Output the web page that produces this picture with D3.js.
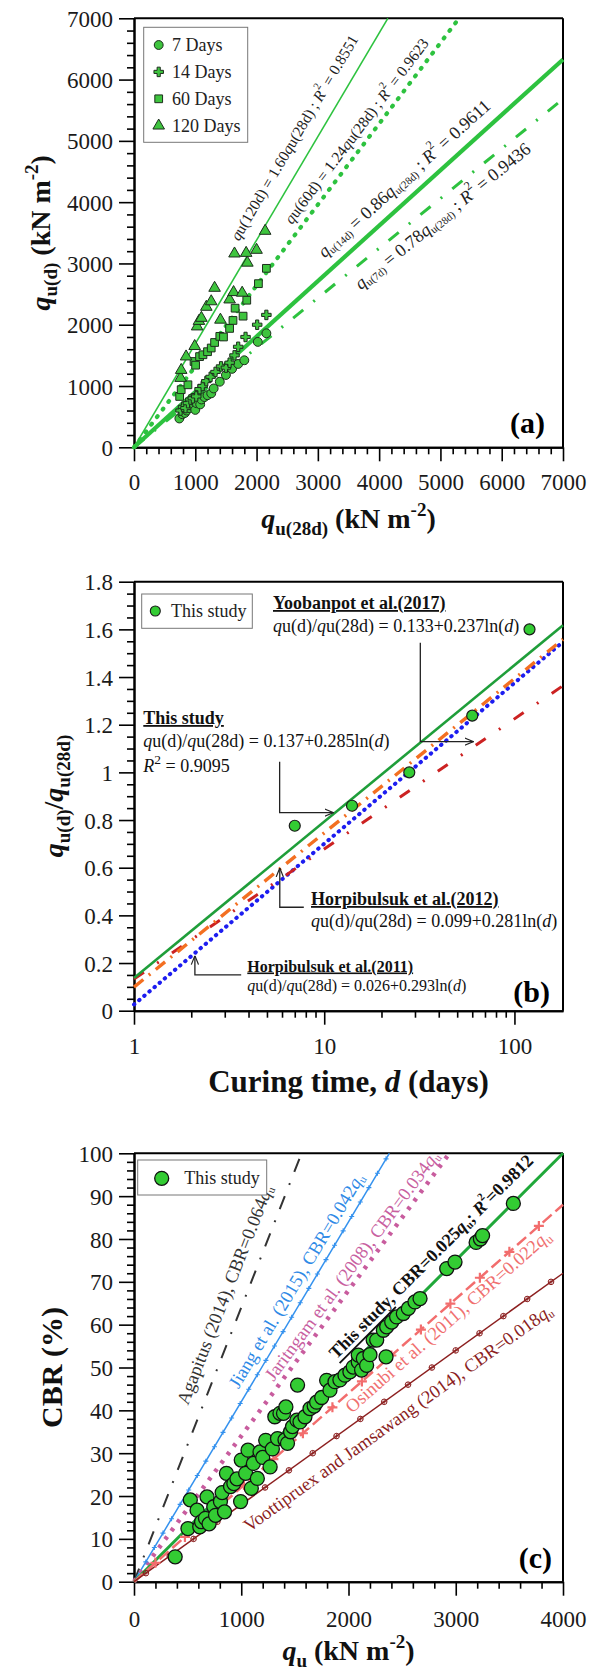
<!DOCTYPE html>
<html><head><meta charset="utf-8">
<script src="https://cdn.jsdelivr.net/npm/d3@7"></script>
<style>
body{margin:0;background:#fff}
svg text{font-family:"Liberation Serif","Times New Roman",serif}
</style>
</head><body>
<svg id="c" width="595" height="1673"></svg>
<script>
// ================= DATA =================
// Panel (a)
const aTicks=[0,1000,2000,3000,4000,5000,6000,7000];
const aLegend=["7 Days","14 Days","60 Days","120 Days"];
const day7=[[740,470],[790,540],[830,560],[860,600],[900,640],[950,680],[1000,610],[1020,720],[1080,700],[1100,780],[1150,820],[1200,850],[1260,880],[1300,960],[1400,1070],[1500,1180],[1600,1280],[1700,1360],[1800,1420],[2020,1720],[2160,1860]];
const day14=[[760,600],[800,660],[840,640],[880,720],[920,780],[960,800],[1016,830],[1070,950],[1120,1000],[1180,1080],[1250,1150],[1330,1230],[1420,1320],[1500,1300],[1560,1380],[1640,1500],[1700,1640],[1820,1800],[2010,2000],[2160,2160]];
const day60=[[745,830],[770,940],[880,1020],[980,1400],[1005,1340],[1070,1480],[1125,1510],[1200,1560],[1260,1620],[1315,1710],[1400,1810],[1460,1800],[1560,1940],[1615,2070],[1650,2270],[1780,2140],[1840,2400],[2030,2670],[2160,2920]];
const day120=[[760,1130],[770,1260],[850,1480],[990,1650],[1030,1970],[1060,2060],[1100,2110],[1180,2290],[1260,2380],[1315,2600],[1410,2080],[1560,2410],[1625,2530],[1765,2520],[1640,3160],[1830,3170],[1850,3010],[2000,3220],[2140,3530]];
const aFitSlopes=[1.69,1.32,0.904,0.812]; // as drawn: 120d, 60d, 14d, 7d
const aFitLabelPos=[[2606,5056],[3622,5169],[4406,4386],[5035,3774]];

// Panel (b)
const bXTicks=[1,10,100];
const bXMinor=[2,3,4,5,6,7,8,9,20,30,40,50,60,70,80,90];
const bYTicks=[0,0.2,0.4,0.6,0.8,1,1.2,1.4,1.6,1.8];
const bDays=[7,14,28,60,120];
const bRatio=[0.776,0.86,1.0,1.238,1.60];
const bModelA=[0.137,0.133,0.099,0.026]; // This study, Yoobanpot 2017, Horpibulsuk 2012, Horpibulsuk 2011
const bModelB=[0.285,0.237,0.281,0.293];

// Panel (c)
const cXTicks=[0,1000,2000,3000,4000];
const cYTicks=[0,10,20,30,40,50,60,70,80,90,100];
const cQu=[384,503,525,588,613,630,666,681,700,744,760,806,822,844,862,900,931,960,994,1000,1041,1063,1094,1113,1150,1175,1200,1228,1269,1290,1313,1338,1361,1394,1408,1416,1431,1460,1478,1519,1525,1548,1594,1641,1680,1703,1750,1796,1827,1874,1920,1967,2013,2044,2091,2091,2122,2138,2169,2200,2230,2263,2325,2350,2356,2403,2449,2511,2558,2620,2667,2916,2993,3190,3230,3250,3537];
const cCBR=[5.8,12.4,19.1,16.7,12.8,14,14.8,19.8,13.5,17.5,15.5,18.7,20.8,16.3,25.3,22.2,22.9,24,18.7,28.4,25.3,30.7,21.8,27.6,24.1,30.3,29,33.0,26.8,31,38.5,33.4,39.3,39.3,33.1,40.8,32.3,35,36.2,37.7,45.9,37.3,38.5,40.4,41,41.9,43,47.0,44.7,46.7,47.1,48.2,49.0,50.1,51.3,52.9,49.4,52.1,50.5,53,56.4,56.4,58.7,52.5,59.5,60.6,61.8,62.6,63.8,65.3,66.1,73.1,74.6,79.2,80,80.8,88.3];
const cSlopes=[0.064,0.042,0.034,0.025,0.022,0.018];
const cLabelPos=[[848,67.0],[1515,70.3],[2033,73.8],[2769,75.9],[2928,60.8],[2462,38.2]];

// ================= HELPERS =================
const svg=d3.select("#c");
const L=134,R=563;
function rich(parent,segs,o){
  const fs=o.fs||18;
  const t=parent.append("text").attr("font-size",fs).attr("fill",o.fill||"#111").style("white-space","pre");
  if(o.x!=null) t.attr("x",o.x); if(o.y!=null) t.attr("y",o.y);
  if(o.anchor) t.attr("text-anchor",o.anchor);
  if(o.bold) t.attr("font-weight","bold");
  if(o.transform) t.attr("transform",o.transform);
  if(o.baseline) t.attr("dominant-baseline",o.baseline);
  let cur=0;
  segs.forEach(s=>{
    const off=s.sub?0.25*fs:(s.sup?-0.42*fs:0);
    const ts=t.append("tspan").text(s.t);
    if(off!==cur){ts.attr("dy",off-cur);cur=off;}
    if(s.sub||s.sup) ts.attr("font-size",(s.k||0.68)*fs);
    if(s.i) ts.attr("font-style","italic");
    if(s.b) ts.attr("font-weight","bold");
    if(s.u) ts.attr("text-decoration","underline");
  });
  return t;
}
function frame(x,y,top,bottom,xMaj,xMin,yMaj,yMin,xFmt,yFmt,labY){
  const g=svg.append("g");
  g.append("g").attr("transform",`translate(0,${bottom})`)
    .call(d3.axisBottom(x).tickValues(xMin).tickSize(7).tickSizeOuter(0).tickFormat(""));
  const gx=g.append("g").attr("transform",`translate(0,${bottom})`)
    .call(d3.axisBottom(x).tickValues(xMaj).tickSize(14).tickSizeOuter(0).tickFormat(xFmt));
  g.append("g").attr("transform",`translate(${L},0)`)
    .call(d3.axisLeft(y).tickValues(yMin).tickSize(7).tickSizeOuter(0).tickFormat(""));
  const gy=g.append("g").attr("transform",`translate(${L},0)`)
    .call(d3.axisLeft(y).tickValues(yMaj).tickSize(15).tickSizeOuter(0).tickFormat(yFmt));
  g.selectAll(".domain").attr("stroke","#000").attr("stroke-width",2);
  g.selectAll(".tick line").attr("stroke","#000").attr("stroke-width",1.6);
  g.selectAll("text").attr("font-family",'"Liberation Serif",serif').attr("font-size",23).attr("fill","#1a1a1a");
  gx.selectAll("text").attr("y",labY||44).attr("dy",0);
  gy.selectAll("text").attr("x",-21).attr("dy","0.35em");
  g.append("line").attr("x1",L).attr("x2",R).attr("y1",top).attr("y2",top).attr("stroke","#000").attr("stroke-width",2);
  g.append("line").attr("x1",R).attr("x2",R).attr("y1",top).attr("y2",bottom).attr("stroke","#000").attr("stroke-width",2);
  return g;
}
const defs=svg.append("defs");
defs.append("marker").attr("id","arr").attr("viewBox","0 0 10 10").attr("refX",10).attr("refY",5)
  .attr("markerWidth",9).attr("markerHeight",9).attr("markerUnits","userSpaceOnUse").attr("orient","auto")
  .append("path").attr("d","M0,1 L10,5 L0,9").attr("fill","none").attr("stroke","#222").attr("stroke-width",1.3);

// ================= PANEL (a) =================
const xA=d3.scaleLinear([0,7000],[L,R]);
const yA=d3.scaleLinear([0,7000],[447.3,18.3]);
const aMinor=d3.range(0,7001,200).filter(v=>v%1000);
frame(xA,yA,18.3,447.3,aTicks,aMinor,aTicks,aMinor,d3.format("d"),d3.format("d"),43);

const aLine="#2dc23f", aFill="#3ec43e", aStroke="#1d2e1d";
const aStyles=[
  {w:1.6,dash:null,cap:"butt"},
  {w:4.2,dash:"1 8.5",cap:"round"},
  {w:4.2,dash:null,cap:"butt"},
  {w:3,dash:"13 13 2 13",cap:"butt"}
];
aFitSlopes.forEach((s,i)=>{
  const xe=Math.min(7000,7000/s);
  const p=svg.append("path").datum([[0,0],[xe,s*xe]])
    .attr("d",d3.line().x(d=>xA(d[0])).y(d=>yA(d[1])))
    .attr("fill","none").attr("stroke",aLine).attr("stroke-width",aStyles[i].w).attr("stroke-linecap",aStyles[i].cap);
  if(aStyles[i].dash) p.attr("stroke-dasharray",aStyles[i].dash);
});
const aLabelSegs=[
  [{t:"q",i:1},{t:"u(120d) = 1.60"},{t:"q",i:1},{t:"u(28d) ; "},{t:"R",i:1},{t:"2",sup:1},{t:" = 0.8551"}],
  [{t:"q",i:1},{t:"u(60d) = 1.24"},{t:"q",i:1},{t:"u(28d) ; "},{t:"R",i:1},{t:"2",sup:1},{t:" = 0.9623"}],
  [{t:"q",i:1},{t:"u(14d)",sub:1,k:0.6},{t:" = 0.86"},{t:"q",i:1},{t:"u(28d)",sub:1,k:0.6},{t:" ; "},{t:"R",i:1},{t:"2",sup:1},{t:" = 0.9611"}],
  [{t:"q",i:1},{t:"u(7d)",sub:1,k:0.6},{t:" = 0.78"},{t:"q",i:1},{t:"u(28d)",sub:1,k:0.6},{t:" ; "},{t:"R",i:1},{t:"2",sup:1},{t:" = 0.9436"}]
];
const aLabelFs=[15.5,15.5,18,18];
aFitSlopes.forEach((s,i)=>{
  const ang=Math.atan2(yA(0)-yA(s*1000),xA(1000)-xA(0))*180/Math.PI;
  const [px,py]=aFitLabelPos[i];
  rich(svg,aLabelSegs[i],{fs:aLabelFs[i],anchor:"middle",baseline:"central",fill:"#222",
    transform:`translate(${xA(px)},${yA(py)}) rotate(${-ang})`});
});
const aSyms=[d3.symbolCircle,d3.symbolCross,d3.symbolSquare,d3.symbolTriangle];
const aSizes=[62,50,60,58];
[day7,day14,day60,day120].forEach((ser,i)=>{
  svg.append("g").selectAll("path").data(ser).join("path")
    .attr("d",d3.symbol(aSyms[i],aSizes[i])())
    .attr("transform",d=>`translate(${xA(d[0])},${yA(d[1])})`)
    .attr("fill",aFill).attr("stroke",aStroke).attr("stroke-width",1);
});
// legend (a)
svg.append("rect").attr("x",143.7).attr("y",27.3).attr("width",104).attr("height",115)
  .attr("fill","#fff").attr("stroke","#777").attr("stroke-width",1);
aLegend.forEach((t,i)=>{
  const yy=45+i*26.9;
  svg.append("path").attr("d",d3.symbol(aSyms[i],aSizes[i])()).attr("transform",`translate(158.7,${yy})`)
    .attr("fill",aFill).attr("stroke",aStroke).attr("stroke-width",1);
  svg.append("text").attr("x",172).attr("y",yy).attr("dominant-baseline","central").attr("font-size",18).attr("fill","#222").text(t);
});
svg.append("text").attr("x",545).attr("y",433).attr("text-anchor","end").attr("font-size",30).attr("font-weight","bold").text("(a)");
rich(svg,[{t:"q",i:1},{t:"u(28d)",sub:1},{t:" (kN m"},{t:"-2",sup:1},{t:")"}],{fs:28,bold:1,anchor:"middle",x:348.5,y:528,fill:"#111"});
rich(svg,[{t:"q",i:1},{t:"u(d)",sub:1},{t:" (kN m"},{t:"-2",sup:1},{t:")"}],{fs:28,bold:1,anchor:"middle",fill:"#111",transform:"translate(50,232.8) rotate(-90)"});

// ================= PANEL (b) =================
const xB=d3.scaleLog([1,180],[L,R]);
const yB=d3.scaleLinear([0,1.8],[1010.7,581.7]);
const bYMinor=d3.range(0,1.8001,0.05).map(v=>+v.toFixed(2)).filter(v=>Math.abs(v*5-Math.round(v*5))>1e-6);
frame(xB,yB,581.7,1010.7,bXTicks,bXMinor,bYTicks,bYMinor,d3.format("d"),d=>String(+d.toFixed(1)),43);
const bStyles=[
  {c:"#1f9e3a",w:2.6,dash:null,cap:"butt"},
  {c:"#cc2222",w:3,dash:"12 16 2 16",cap:"butt"},
  {c:"#f36f21",w:3.4,dash:"12 7 2 7",cap:"butt"},
  {c:"#1d1df0",w:4,dash:"0.5 6.2",cap:"round"}
];
const bDrawOrder=[3,1,2,0];
bDrawOrder.forEach(i=>{
  const f=d=>bModelA[i]+bModelB[i]*Math.log(d);
  const p=svg.append("path").datum([1,180])
    .attr("d",d3.line().x(d=>xB(d)).y(d=>yB(f(d))))
    .attr("fill","none").attr("stroke",bStyles[i].c).attr("stroke-width",bStyles[i].w).attr("stroke-linecap",bStyles[i].cap);
  if(bStyles[i].dash) p.attr("stroke-dasharray",bStyles[i].dash);
});
svg.append("g").selectAll("circle").data(bDays).join("circle")
  .attr("cx",d=>xB(d)).attr("cy",(d,i)=>yB(bRatio[i])).attr("r",5.5)
  .attr("fill","#33cc33").attr("stroke","#1a1a1a").attr("stroke-width",1.2);
// arrows
const bArrows=[
  [[32,1.544],[32,1.129],[61,1.129]],
  [[5.83,1.045],[5.83,0.831],[11.2,0.831]],
  [[7.81,0.434],[5.84,0.434],[5.84,0.599]],
  [[3.66,0.150],[2.09,0.150],[2.09,0.231]]
];
bArrows.forEach(a=>{
  svg.append("path").datum(a).attr("d",d3.line().x(d=>xB(d[0])).y(d=>yB(d[1])))
    .attr("fill","none").attr("stroke","#222").attr("stroke-width",1.3).attr("marker-end","url(#arr)");
});
function eq(a,b){return [{t:"q",i:1},{t:"u(d)/"},{t:"q",i:1},{t:"u(28d) = "+a+"+"+b+"ln("},{t:"d",i:1},{t:")"}];}
rich(svg,[{t:"Yoobanpot et al.(2017)",b:1,u:1}],{fs:18,x:273,y:609});
rich(svg,eq("0.133","0.237"),{fs:18,x:273,y:631.5});
rich(svg,[{t:"This study",b:1,u:1}],{fs:18,x:143.3,y:724});
rich(svg,eq("0.137","0.285"),{fs:18,x:143.3,y:747});
rich(svg,[{t:"R",i:1},{t:"2",sup:1,k:0.75},{t:" = 0.9095"}],{fs:18,x:143.3,y:772});
rich(svg,[{t:"Horpibulsuk et al.(2012)",b:1,u:1}],{fs:18,x:311,y:905});
rich(svg,eq("0.099","0.281"),{fs:18,x:311,y:926.5});
rich(svg,[{t:"Horpibulsuk et al.(2011)",b:1,u:1}],{fs:16,x:247.3,y:971.5});
rich(svg,eq("0.026","0.293"),{fs:16,x:247.3,y:990.7});
// legend (b)
svg.append("rect").attr("x",141.7).attr("y",594).attr("width",110.6).attr("height",34.3)
  .attr("fill","#fff").attr("stroke","#777").attr("stroke-width",1);
svg.append("circle").attr("cx",155.3).attr("cy",611).attr("r",5).attr("fill","#33cc33").attr("stroke","#1a1a1a").attr("stroke-width",1.1);
svg.append("text").attr("x",171).attr("y",611).attr("dominant-baseline","central").attr("font-size",18).attr("fill","#222").text("This study");
svg.append("text").attr("x",550).attr("y",1001.7).attr("text-anchor","end").attr("font-size",30).attr("font-weight","bold").text("(b)");
rich(svg,[{t:"Curing time, "},{t:"d",i:1},{t:" (days)"}],{fs:31,bold:1,anchor:"middle",x:348.5,y:1092});
rich(svg,[{t:"q",i:1},{t:"u(d)",sub:1},{t:"/"},{t:"q",i:1},{t:"u(28d)",sub:1}],{fs:28,bold:1,anchor:"middle",fill:"#111",transform:"translate(63,796) rotate(-90)"});

// ================= PANEL (c) =================
const xC=d3.scaleLinear([0,4000],[L,R]);
const yC=d3.scaleLinear([0,100],[1581.7,1153.3]);
const cXMinor=d3.range(0,4001,200).filter(v=>v%1000);
const cYMinor=d3.range(0,101,2).filter(v=>v%10);
frame(xC,yC,1153.3,1581.7,cXTicks,cXMinor,cYTicks,cYMinor,d3.format("d"),d3.format("d"),45);
const cStyles=[
  {c:"#333333",w:2,dash:"14 12 2 12",cap:"butt"},
  {c:"#3391ee",w:1.5,dash:null,cap:"butt"},
  {c:"#c85c9e",w:4.5,dash:"3.5 7",cap:"butt"},
  {c:"#20a83a",w:3,dash:null,cap:"butt"},
  {c:"#f26d6d",w:2.5,dash:"12 5",cap:"butt"},
  {c:"#8c1f1f",w:1.5,dash:null,cap:"butt"}
];
const cTextColors=["#333333","#2f8ae6","#c8609f","#111111","#f07070","#8c1f1f"];
cSlopes.forEach((s,i)=>{
  const xe=Math.min(4000,100/s);
  const p=svg.append("path").datum([[0,0],[xe,s*xe]])
    .attr("d",d3.line().x(d=>xC(d[0])).y(d=>yC(d[1])))
    .attr("fill","none").attr("stroke",cStyles[i].c).attr("stroke-width",cStyles[i].w).attr("stroke-linecap",cStyles[i].cap);
  if(cStyles[i].dash) p.attr("stroke-dasharray",cStyles[i].dash);
});
// line decorations (markers along the fitted lines)
const jiangM=d3.range(110,100/0.042,80);
svg.append("g").selectAll("path").data(jiangM).join("path")
  .attr("d","M-2.5,0H2.5M0,-2.5V2.5").attr("transform",d=>`translate(${xC(d)},${yC(0.042*d)})`)
  .attr("stroke","#3391ee").attr("stroke-width",1.1).attr("fill","none");
const osiM=d3.range(200,4000,275);
svg.append("g").selectAll("path").data(osiM).join("path")
  .attr("d","M-5,0H5M0,-5V5").attr("transform",d=>`translate(${xC(d)},${yC(0.022*d)})`)
  .attr("stroke","#f26d6d").attr("stroke-width",2.2).attr("fill","none");
const vooM=d3.range(111,4000,222.2);
const vg=svg.append("g").selectAll("g").data(vooM).join("g").attr("transform",d=>`translate(${xC(d)},${yC(0.018*d)})`);
vg.append("circle").attr("r",2.8).attr("fill","none").attr("stroke","#8c1f1f").attr("stroke-width",1);
vg.append("path").attr("d","M-2.8,0H2.8M0,-2.8V2.8").attr("stroke","#8c1f1f").attr("stroke-width",0.8);
// points
svg.append("g").selectAll("circle").data(cQu).join("circle")
  .attr("cx",d=>xC(d)).attr("cy",(d,i)=>yC(cCBR[i])).attr("r",7)
  .attr("fill","#33cc33").attr("stroke","#111").attr("stroke-width",1.3);
const cLabelSegs=[
  [{t:"Agapitus (2014), CBR=0.064"},{t:"q",i:1},{t:"u",sub:1,k:0.6}],
  [{t:"Jiang et al. (2015), CBR=0.042"},{t:"q",i:1},{t:"u",sub:1,k:0.6}],
  [{t:"Jaritngam et al. (2008), CBR=0.034"},{t:"q",i:1},{t:"u",sub:1,k:0.6}],
  [{t:"This study",u:1},{t:", CBR=0.025"},{t:"q",i:1},{t:"u",sub:1,k:0.6},{t:"; "},{t:"R",i:1},{t:"2",sup:1,k:0.6},{t:"=0.9812"}],
  [{t:"Osinubi et al. (2011), CBR=0.022"},{t:"q",i:1},{t:"u",sub:1,k:0.7}],
  [{t:"Voottipruex and Jamsawang (2014), CBR=0.018"},{t:"q",i:1},{t:"u",sub:1,k:0.6}]
];
cSlopes.forEach((s,i)=>{
  const ang=Math.atan2(yC(0)-yC(s*1000),xC(1000)-xC(0))*180/Math.PI;
  const [px,py]=cLabelPos[i];
  rich(svg,cLabelSegs[i],{fs:i===3?18:18.5,bold:i===3,anchor:"middle",baseline:"central",fill:cTextColors[i],
    transform:`translate(${xC(px)},${yC(py)}) rotate(${-ang})`});
});
// legend (c)
svg.append("rect").attr("x",137.7).attr("y",1160).attr("width",129).attr("height",35)
  .attr("fill","#fff").attr("stroke","#777").attr("stroke-width",1);
svg.append("circle").attr("cx",161.7).attr("cy",1178.3).attr("r",7).attr("fill","#33cc33").attr("stroke","#111").attr("stroke-width",1.3);
svg.append("text").attr("x",184.3).attr("y",1178.3).attr("dominant-baseline","central").attr("font-size",18).attr("fill","#222").text("This study");
svg.append("text").attr("x",552).attr("y",1568).attr("text-anchor","end").attr("font-size",30).attr("font-weight","bold").text("(c)");
rich(svg,[{t:"q",i:1},{t:"u",sub:1},{t:" (kN m"},{t:"-2",sup:1},{t:")"}],{fs:28,bold:1,anchor:"middle",x:348.5,y:1660,fill:"#111"});
rich(svg,[{t:"CBR (%)"}],{fs:30,bold:1,anchor:"middle",fill:"#111",transform:"translate(62,1367.5) rotate(-90)"});
</script>
</body></html>
